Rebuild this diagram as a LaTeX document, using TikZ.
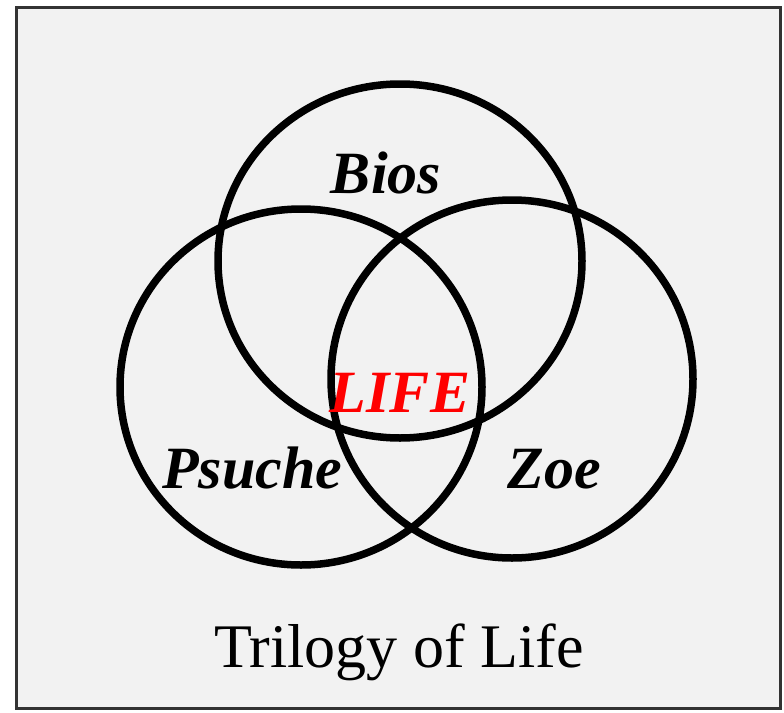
\documentclass[tikz,border=0pt]{standalone}
\usepackage{fontspec}
\setmainfont{Liberation Serif}
\usepackage{xcolor}
\usepackage{tikz}
\usetikzlibrary{shapes.geometric, positioning}
\definecolor{FrameGray}{HTML}{333333}
\definecolor{PaperGray}{HTML}{F2F2F2}
\definecolor{LifeRed}{HTML}{FF0000}
\tikzset{
  ring/.style={ellipse, draw=black, line width=7.5pt, inner sep=0pt},
  tag/.style={anchor=base, inner sep=0pt,
    font=\fontsize{60}{72}\selectfont\bfseries\itshape},
  caption/.style={anchor=base, inner sep=0pt,
    font=\fontsize{62}{74}\selectfont},
}

\begin{document}
\begin{tikzpicture}[x=1pt, y=-1pt]

  \useasboundingbox (0,0) rectangle (784,712);

  % Panel
  \draw[draw=FrameGray, fill=PaperGray, line width=3pt]
    (16.5,7.5) rectangle (780.5,708.5);

  % Top circle
  \node[ring, minimum width=364pt, minimum height=354pt]
    (bios) at (400,261) {};

  % Left circle
  \node[ring, minimum width=362pt, minimum height=356pt]
    (psuche) at (301,387) {};

  % Right circle
  \node[ring, minimum width=362pt, minimum height=358pt]
    (zoe) at (512,379) {};

  % Labels
  \node[tag] (biostxt)   at (386,193) {Bios};
  \node[tag] (psuchetxt) at (252,488) {Psuche};
  \node[tag] (zoetxt)    at (554,488) {Zoe};
  \node[tag, text=LifeRed] (life) at (400,412) {LIFE};

  % Caption
  \node[caption] (title) at (399,667) {Trilogy of Life};

\end{tikzpicture}
\end{document}
